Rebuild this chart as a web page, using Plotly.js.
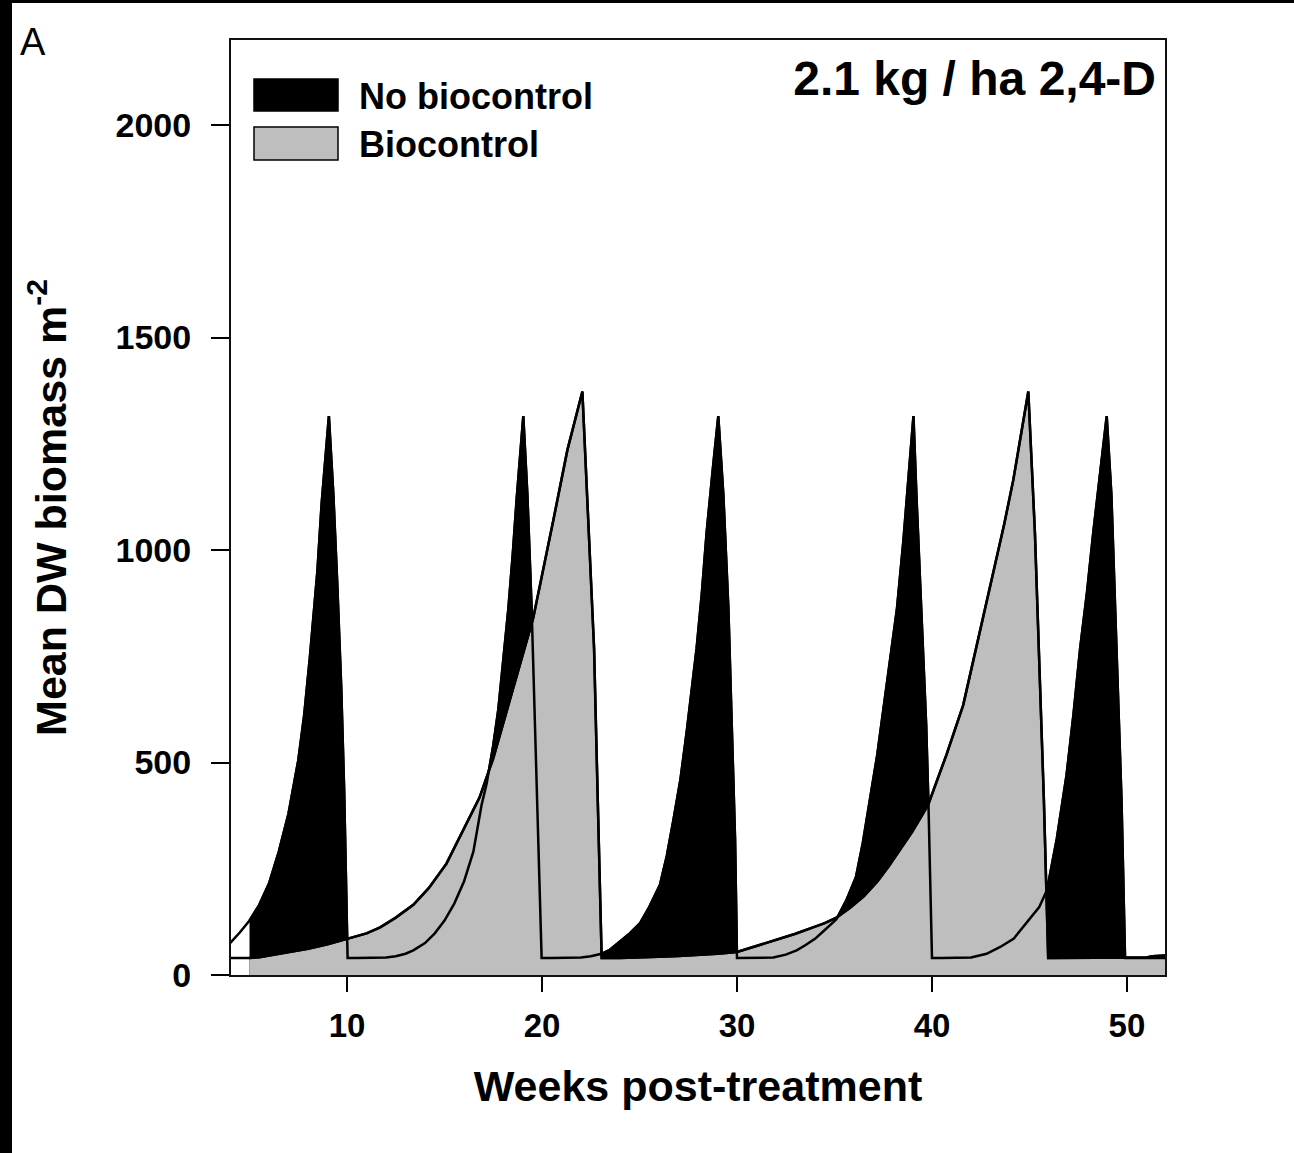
<!DOCTYPE html>
<html>
<head>
<meta charset="utf-8">
<script src="https://cdn.plot.ly/plotly-3.0.1.min.js"></script>
<style>
  html, body { margin: 0; padding: 0; background: #000; width: 1294px; height: 1153px; overflow: hidden; }
  #plot { position: absolute; left: 12px; top: 3px; width: 1282px; height: 1150px; background: #fff; }
</style>
</head>
<body>
<div id="plot"></div>
<script>
// ---- Data ----
// "No biocontrol" series: weeks and mean dry-weight biomass (g m^-2)
const noBioWeeks = [
  4.0, 4.5, 5.0, 5.5, 6.0, 6.5, 7.0, 7.5, 7.8, 8.1, 8.48, 8.7, 9.07, 9.3, 9.5, 9.7, 9.85, 10.03,
  10.5, 11.0, 11.5, 12.0, 12.5, 13.0, 13.4, 14.0, 14.5, 15.0, 15.5, 16.0, 16.48, 16.9, 17.16, 17.5, 17.76, 18.0, 18.27, 18.5, 18.7, 19.04, 19.25, 19.47, 19.64, 19.81, 19.98,
  20.5, 21.0, 21.5, 22.0, 22.5, 23.06, 23.5, 24.0, 24.5, 25.03, 25.5, 26.05, 26.4, 26.74, 27.1, 27.42, 27.7, 27.93, 28.2, 28.44, 28.78, 29.04, 29.3, 29.56, 29.73, 29.9, 30.0,
  30.5, 31.0, 31.5, 31.86, 32.5, 33.06, 33.5, 34.0, 34.43, 35.1, 35.6, 36.1, 36.45, 36.8, 37.2, 37.67, 38.2, 38.53, 38.8, 39.05, 39.2, 39.44, 39.7, 39.82, 40.0,
  40.5, 41.0, 41.5, 42.0, 42.8, 43.5, 44.2, 45.0, 45.5, 45.9, 46.4, 46.9, 47.25, 47.6, 47.95, 48.27, 48.6, 48.96, 49.2, 49.46, 49.72, 49.9,
  50.5, 51.0, 51.5, 52.0
];
const noBioBiomass = [
  75, 100, 128, 165, 215, 290, 380, 505, 610, 750, 950, 1110, 1315, 1130, 920, 680, 440, 40,
  40, 40, 40, 41, 44, 50, 58, 75, 98, 128, 168, 220, 290, 400, 450, 540, 625, 730, 860, 990, 1120, 1315, 1130, 860, 590, 320, 40,
  40, 40, 40, 41, 44, 50, 60, 78, 98, 122, 160, 212, 280, 365, 460, 572, 680, 769, 900, 1040, 1200, 1315, 1130, 860, 590, 320, 40,
  40, 40, 40, 41, 48, 58, 70, 85, 103, 131, 175, 230, 310, 410, 520, 680, 860, 1020, 1170, 1315, 1130, 860, 590, 400, 40,
  40, 40, 40, 41, 50, 66, 86, 131, 160, 200, 320, 470, 610, 769, 900, 1040, 1170, 1315, 1130, 769, 410, 40,
  40, 40, 40, 40
];

// "Biocontrol" series
const bioWeeks = [
  4.0, 5.0, 5.5, 6.0, 7.0, 8.0, 9.0, 10.07, 11.0, 11.7, 12.5, 13.4, 14.2, 15.1, 15.45, 16.0, 16.8, 17.5, 18.5, 19.55, 20.58, 21.3, 22.07, 22.3, 22.67, 22.86, 23.06,
  24.0, 25.0, 26.0, 27.0, 28.0, 29.0, 30.0, 31.0, 32.2, 33.0, 33.9, 34.5, 35.1, 35.8, 36.5, 37.2, 37.8, 38.4, 39.0, 39.8, 40.74, 41.6, 42.1, 42.6, 43.14, 43.7, 44.17, 44.94, 45.28, 45.54, 45.74, 45.96,
  47.0, 48.0, 49.0, 50.0, 51.0, 51.3, 52.0
];
const bioBiomass = [
  40, 40, 42, 46, 54, 62, 72, 85, 98, 112, 135, 165, 205, 262, 294, 345, 418, 510, 670, 840, 1070, 1235, 1373, 1130, 769, 410, 40,
  40, 41, 43, 45, 47, 50, 54, 68, 86, 97, 112, 122, 135, 158, 185, 220, 257, 296, 338, 400, 518, 635, 735, 835, 945, 1060, 1165, 1373, 1040, 680, 410, 40,
  40, 40, 40, 40, 41, 44, 46
];

const seriesNames = ["No biocontrol", "Biocontrol"];
const seriesFills = ["#000000", "#bebebe"];
const xTickVals = [10, 20, 30, 40, 50];
const yTickVals = [0, 500, 1000, 1500, 2000];
const fillStartWeek = 5;   // shaded polygons begin at week 5
const panelLabel = "A";
const panelTitle = "2.1 kg / ha 2,4-D";

// ---- build traces ----
function fromWeek(xs, ys, w) {
  const ox = [], oy = [];
  for (let i = 0; i < xs.length; i++) { if (xs[i] >= w) { ox.push(xs[i]); oy.push(ys[i]); } }
  return [ox, oy];
}
const [nbx, nby] = fromWeek(noBioWeeks, noBioBiomass, fillStartWeek);
const [bx, by] = fromWeek(bioWeeks, bioBiomass, fillStartWeek);

const FONT = "Liberation Sans, Arial, Helvetica, sans-serif";
const lineStyle = { color: "#000", width: 2.5, shape: "linear" };

const traces = [
  { x: nbx, y: nby, type: "scatter", mode: "lines", fill: "tozeroy", fillcolor: seriesFills[0],
    line: lineStyle, name: seriesNames[0], showlegend: false, hoverinfo: "skip" },
  { x: bx, y: by, type: "scatter", mode: "lines", fill: "tozeroy", fillcolor: seriesFills[1],
    line: lineStyle, name: seriesNames[1], showlegend: false, hoverinfo: "skip" },
  { x: bioWeeks, y: bioBiomass, type: "scatter", mode: "lines", line: lineStyle,
    name: seriesNames[1] + " outline", showlegend: false, hoverinfo: "skip" },
  { x: noBioWeeks, y: noBioBiomass, type: "scatter", mode: "lines", line: lineStyle,
    name: seriesNames[0] + " outline", showlegend: false, hoverinfo: "skip" }
];

// plot area: page x 231..1165, page y 40..975
const PX0 = 231, PW = 934, PYB = 975, PH = 935;
const px = v => (v - PX0) / PW;
const py = v => (PYB - v) / PH;

const layout = {
  width: 1282, height: 1150,
  margin: { l: 219, r: 129, t: 37, b: 178, pad: 0 },
  paper_bgcolor: "#fff", plot_bgcolor: "#fff",
  font: { family: FONT, color: "#000" },
  showlegend: false,
  title: { text: panelTitle, font: { family: FONT, size: 48, weight: "bold", color: "#000" },
           xref: "paper", yref: "paper", x: px(1156), y: py(78), xanchor: "right", yanchor: "middle" },
  xaxis: {
    range: [4.05, 51.95], tickvals: xTickVals, ticktext: xTickVals.map(String),
    ticks: "outside", ticklen: 15, tickwidth: 2, tickcolor: "#000",
    ticklabelstandoff: 5,
    showline: true, linewidth: 2, linecolor: "#111", mirror: true,
    showgrid: false, zeroline: false,
    tickfont: { family: FONT, size: 33, weight: "bold", color: "#000" },
    title: { text: "Weeks post-treatment", font: { family: FONT, size: 43, weight: "bold", color: "#000" }, standoff: 28 }
  },
  yaxis: {
    range: [0, 2200], tickvals: yTickVals, ticktext: yTickVals.map(String),
    ticks: "outside", ticklen: 18, tickwidth: 2, tickcolor: "#000",
    ticklabelstandoff: 13,
    showline: true, linewidth: 2, linecolor: "#111", mirror: true,
    showgrid: false, zeroline: false,
    tickfont: { family: FONT, size: 34, weight: "bold", color: "#000" },
    title: { text: "Mean DW biomass m<sup>-2</sup>", font: { family: FONT, size: 43, weight: "bold", color: "#000" }, standoff: 36 }
  },
  shapes: [
    { type: "rect", xref: "paper", yref: "paper", x0: px(254), x1: px(338), y0: py(111), y1: py(79),
      fillcolor: seriesFills[0], line: { color: "#000", width: 1.5 } },
    { type: "rect", xref: "paper", yref: "paper", x0: px(254), x1: px(338), y0: py(160), y1: py(127),
      fillcolor: seriesFills[1], line: { color: "#000", width: 1.5 } }
  ],
  annotations: [
    { text: seriesNames[0], xref: "paper", yref: "paper", x: px(357), y: py(96), xanchor: "left", yanchor: "middle",
      showarrow: false, font: { family: FONT, size: 36, weight: "bold", color: "#000" } },
    { text: seriesNames[1], xref: "paper", yref: "paper", x: px(357), y: py(144), xanchor: "left", yanchor: "middle",
      showarrow: false, font: { family: FONT, size: 36, weight: "bold", color: "#000" } },
    { text: panelLabel, xref: "paper", yref: "paper", x: px(18), y: py(42), xanchor: "left", yanchor: "middle",
      showarrow: false, font: { family: FONT, size: 38, color: "#000" } }
  ]
};

Plotly.newPlot("plot", traces, layout, { displayModeBar: false, staticPlot: true });
</script>
</body>
</html>
